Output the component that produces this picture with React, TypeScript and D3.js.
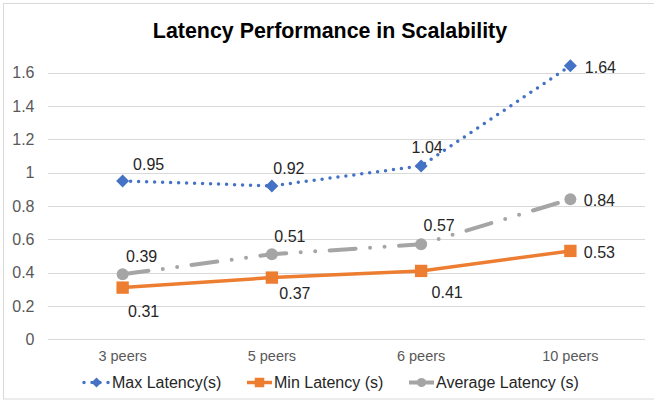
import React from "react";
import * as d3 from "d3";

const categories = ["3 peers", "5 peers", "6 peers", "10 peers"];
const maxLatency = [0.95, 0.92, 1.04, 1.64];
const minLatency = [0.31, 0.37, 0.41, 0.53];
const avgLatency = [0.39, 0.51, 0.57, 0.84];
const yTicks = [0, 0.2, 0.4, 0.6, 0.8, 1, 1.2, 1.4, 1.6];
const seriesNames = ["Max Latency(s)", "Min Latency (s)", "Average Latency (s)"];

// label placement offsets (label centre relative to point), layout only
const maxOffsets = [[26, -17], [17, -18], [6, -19], [30, 1]];
const minOffsets = [[21, 24], [23, 16], [26, 21], [29, 1]];
const avgOffsets = [[19, -18], [18, -18], [18, -19], [29, 1]];

const W = 654;
const H = 403;
const FONT = "'Liberation Sans', Arial, sans-serif";

export default function App() {
  const x = d3.scalePoint<string>().domain(categories).range([48, 645]).padding(0.5);
  const y = d3.scaleLinear().domain([0, 1.6]).range([339.3, 72.5]);
  const line = d3
    .line<number>()
    .x((_, i) => x(categories[i]) as number)
    .y((d) => y(d));

  const fmt = (v: number) => d3.format(".2f")(v);

  const series = [
    { name: seriesNames[0], data: maxLatency, color: "#4472C4", offsets: maxOffsets, kind: "diamond", dash: "0 8", width: 3.5 },
    { name: seriesNames[1], data: minLatency, color: "#ED7D31", offsets: minOffsets, kind: "square", dash: "", width: 3.5 },
    { name: seriesNames[2], data: avgLatency, color: "#A5A5A5", offsets: avgOffsets, kind: "circle", dash: "26 14.5 0 14.5 0 14.5", width: 4 },
  ];

  const marker = (kind: string, cx: number, cy: number, r: number, color: string, key?: string) => {
    if (kind === "diamond") {
      return (
        <path key={key} d={`M${cx},${cy - r}L${cx + r},${cy}L${cx},${cy + r}L${cx - r},${cy}Z`} fill={color} />
      );
    }
    if (kind === "square") {
      const s = r * 0.95;
      return <rect key={key} x={cx - s} y={cy - s} width={2 * s} height={2 * s} fill={color} />;
    }
    return <circle key={key} cx={cx} cy={cy} r={r * 0.92} fill={color} />;
  };

  const legendItems = [
    { x0: 84, x1: 109, tx: 112 },
    { x0: 247, x1: 272, tx: 274 },
    { x0: 409, x1: 434, tx: 436 },
  ];

  return (
    <svg width={W} height={H} style={{ position: "absolute", left: 0, top: 0 }} fontFamily={FONT}>
      <rect x={0} y={0} width={W} height={H} fill="#fff" />
      <rect x={3.5} y={3.5} width={W + 10} height={395.5} fill="none" stroke="#D9D9D9" strokeWidth={1} />
      <text x={330} y={38} textAnchor="middle" fontSize={21.4} fontWeight="bold" fill="#000">
        Latency Performance in Scalability
      </text>
      {yTicks.map((t) => (
        <g key={t}>
          <line x1={48} x2={645} y1={Math.round(y(t)) + 0.5} y2={Math.round(y(t)) + 0.5} stroke="#D9D9D9" strokeWidth={1} />
          <text x={34.5} y={y(t) + 5.8} textAnchor="end" fontSize={16} fill="#595959">
            {String(t)}
          </text>
        </g>
      ))}
      {categories.map((c) => (
        <text key={c} x={x(c)} y={360.5} textAnchor="middle" fontSize={14.5} fill="#595959">
          {c}
        </text>
      ))}
      {series.map((s) => (
        <g key={s.name}>
          <path
            d={line(s.data) || ""}
            fill="none"
            stroke={s.color}
            strokeWidth={s.width}
            strokeDasharray={s.dash || undefined}
            strokeLinecap={s.dash ? "round" : "butt"}
            strokeLinejoin="round"
          />
          {s.data.map((v, i) => marker(s.kind, x(categories[i]) as number, y(v), 6.5, s.color, `${s.name}-${i}`))}
          {s.data.map((v, i) => (
            <text
              key={`l-${s.name}-${i}`}
              x={(x(categories[i]) as number) + s.offsets[i][0]}
              y={y(v) + s.offsets[i][1] + 5.7}
              textAnchor="middle"
              fontSize={16}
              fill="#262626"
            >
              {fmt(v)}
            </text>
          ))}
        </g>
      ))}
      {series.map((s, i) => {
        const it = legendItems[i];
        const cy = 382.5;
        return (
          <g key={`lg-${s.name}`}>
            <line
              x1={it.x0}
              x2={it.x1}
              y1={cy}
              y2={cy}
              stroke={s.color}
              strokeWidth={s.width}
              strokeDasharray={i === 0 ? "0 8" : undefined}
              strokeLinecap={i === 0 ? "round" : "butt"}
            />
            {marker(s.kind, (it.x0 + it.x1) / 2, cy, 5, s.color)}
            <text x={it.tx} y={388} fontSize={16} fill="#262626">
              {s.name}
            </text>
          </g>
        );
      })}
    </svg>
  );
}
